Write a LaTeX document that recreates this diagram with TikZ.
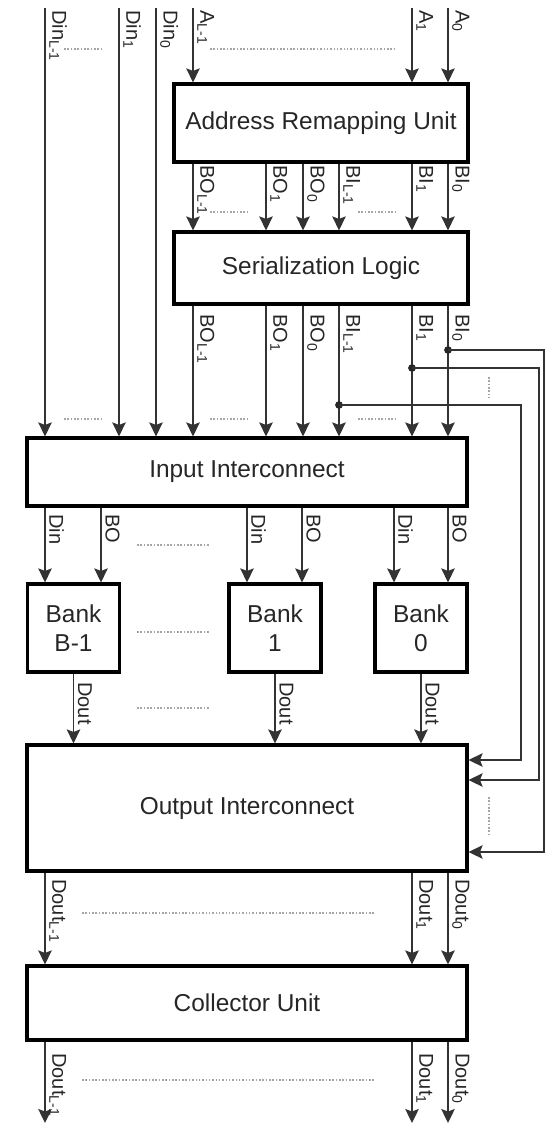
\documentclass[tikz,border=0pt]{standalone}
\usepackage{fontspec}
\setmainfont{Liberation Sans}
\usepackage{tikz}
\usetikzlibrary{arrows.meta,positioning}

\begin{document}
\begin{tikzpicture}[
    x=0.02cm, y=-0.02cm,
    box/.style={draw, line width=1.8pt, inner sep=2pt, text=black!85,
                font=\fontsize{13.9}{16.5}\selectfont, align=center},
    arr/.style={-{Stealth[length=0.28cm, width=0.27cm, inset=0.05cm]}, line width=0.9pt, black!80},
    lab/.style={rotate=-90, anchor=south west, inner sep=0pt, text=black!85,
                font=\fontsize{11.4}{13}\selectfont},
    dots/.style={gray!70, densely dotted, line width=0.9pt},
]
\useasboundingbox (0,0) rectangle (545,1125);

% --- blocks ---
\node[box, minimum width=5.88cm, minimum height=1.56cm] (aru) at (321,123) {Address Remapping Unit};
\node[box, minimum width=5.88cm, minimum height=1.44cm] (sl) at (321,268) {Serialization Logic};
\node[box, minimum width=8.8cm, minimum height=1.36cm] (ii) at (247,472) {Input Interconnect};
\node[box, minimum width=1.84cm, minimum height=1.76cm] (bankB) at (73.5,628) {Bank\\B-1};
\node[box, minimum width=1.84cm, minimum height=1.76cm] (bank1) at (275,628) {Bank\\1};
\node[box, minimum width=1.84cm, minimum height=1.76cm] (bank0) at (421,628) {Bank\\0};
\node[box, minimum width=8.8cm, minimum height=2.52cm] (oi) at (247,808) {Output Interconnect};
\node[box, minimum width=8.8cm, minimum height=1.48cm] (cu) at (247,1003) {Collector Unit};

% --- columns ---
\coordinate (dinL) at (45,8);
\coordinate (din1) at (119,8);
\coordinate (din0) at (156,8);
\coordinate (aL) at (193,8);
\coordinate (bo1) at (266,8);
\coordinate (bo0) at (303,8);
\coordinate (biL) at (339,8);
\coordinate (a1) at (412,8);
\coordinate (a0) at (448,8);
\coordinate (kBo) at (101,8);
\coordinate (k1d) at (247,8);
\coordinate (k1o) at (302,8);
\coordinate (k0d) at (394,8);

% --- inputs ---
\draw[arr] (dinL) -- (dinL |- ii.north);
\draw[arr] (din1) -- (din1 |- ii.north);
\draw[arr] (din0) -- (din0 |- ii.north);
\draw[arr] (aL) -- (aL |- aru.north);
\draw[arr] (a1) -- (a1 |- aru.north);
\draw[arr] (a0) -- (a0 |- aru.north);
\node[lab] (tDinL) at (49,10) {Din\textsubscript{L-1}};
\node[lab] (tDin1) at (123,10) {Din\textsubscript{1}};
\node[lab] (tDin0) at (160,10) {Din\textsubscript{0}};
\node[lab] (tAL) at (197,10) {A\textsubscript{L-1}};
\node[lab] (tA1) at (416,10) {A\textsubscript{1}};
\node[lab] (tA0) at (452,10) {A\textsubscript{0}};
\draw[dots] (64,49) -- (101,49);
\draw[dots] (210,49) -- (395,49);

% --- remapping -> serialization ---
\draw[arr] (aru.south -| aL) -- (sl.north -| aL);
\draw[arr] (aru.south -| bo1) -- (sl.north -| bo1);
\draw[arr] (aru.south -| bo0) -- (sl.north -| bo0);
\draw[arr] (aru.south -| biL) -- (sl.north -| biL);
\draw[arr] (aru.south -| a1) -- (sl.north -| a1);
\draw[arr] (aru.south -| a0) -- (sl.north -| a0);
\node[lab] (mBOL) at (197,165) {BO\textsubscript{L-1}};
\node[lab] (mBO1) at (270,165) {BO\textsubscript{1}};
\node[lab] (mBO0) at (307,165) {BO\textsubscript{0}};
\node[lab] (mBIL) at (343,165) {BI\textsubscript{L-1}};
\node[lab] (mBI1) at (416,165) {BI\textsubscript{1}};
\node[lab] (mBI0) at (452,165) {BI\textsubscript{0}};
\draw[dots] (210,212) -- (248,212);
\draw[dots] (358,212) -- (395,212);

% --- serialization -> input interconnect ---
\draw[arr] (sl.south -| aL) -- (ii.north -| aL);
\draw[arr] (sl.south -| bo1) -- (ii.north -| bo1);
\draw[arr] (sl.south -| bo0) -- (ii.north -| bo0);
\draw[arr] (sl.south -| biL) -- (ii.north -| biL);
\draw[arr] (sl.south -| a1) -- (ii.north -| a1);
\draw[arr] (sl.south -| a0) -- (ii.north -| a0);
\node[lab] (sBOL) at (197,314) {BO\textsubscript{L-1}};
\node[lab] (sBO1) at (270,314) {BO\textsubscript{1}};
\node[lab] (sBO0) at (307,314) {BO\textsubscript{0}};
\node[lab] (sBIL) at (343,314) {BI\textsubscript{L-1}};
\node[lab] (sBI1) at (416,314) {BI\textsubscript{1}};
\node[lab] (sBI0) at (452,314) {BI\textsubscript{0}};
\draw[dots] (64,419) -- (101,419);
\draw[dots] (210,419) -- (249,419);
\draw[dots] (358,419) -- (395,419);

% --- BI feedback to output interconnect ---
\coordinate (j0) at (448,350);
\coordinate (j1) at (412,368);
\coordinate (jL) at (339,405);
\coordinate (r0) at (544,852);
\coordinate (r1) at (539,780);
\coordinate (rL) at (521,760);
\fill[black!85] (j0) circle (2.2pt);
\fill[black!85] (j1) circle (2.2pt);
\fill[black!85] (jL) circle (2.2pt);
\draw[arr] (j0) -| (r0) -- (oi.east |- r0);
\draw[arr] (j1) -| (r1) -- (oi.east |- r1);
\draw[arr] (jL) -| (rL) -- (oi.east |- rL);
\draw[dots] (489,377) -- (489,398);
\draw[dots] (489,797) -- (489,837);

% --- input interconnect -> banks ---
\draw[arr] (ii.south -| dinL) -- (bankB.north -| dinL);
\draw[arr] (ii.south -| kBo) -- (bankB.north -| kBo);
\draw[arr] (ii.south -| k1d) -- (bank1.north -| k1d);
\draw[arr] (ii.south -| k1o) -- (bank1.north -| k1o);
\draw[arr] (ii.south -| k0d) -- (bank0.north -| k0d);
\draw[arr] (ii.south -| a0) -- (bank0.north -| a0);
\node[lab] (bDinB) at (49,514) {Din};
\node[lab] (bBOB) at (105,514) {BO};
\node[lab] (bDin1) at (251,514) {Din};
\node[lab] (bBO1) at (306,514) {BO};
\node[lab] (bDin0) at (398,514) {Din};
\node[lab] (bBO0) at (452,514) {BO};
\draw[dots] (137,545) -- (210,545);
\draw[dots] (137,632) -- (210,632);

% --- banks -> output interconnect ---
\draw[arr] (bankB.south) -- (bankB.south |- oi.north);
\draw[arr] (bank1.south) -- (bank1.south |- oi.north);
\draw[arr] (bank0.south) -- (bank0.south |- oi.north);
\node[lab] (oDoutB) at (77.5,682) {Dout};
\node[lab] (oDout1) at (279,682) {Dout};
\node[lab] (oDout0) at (425,682) {Dout};
\draw[dots] (137,708) -- (210,708);

% --- output interconnect -> collector ---
\draw[arr] (oi.south -| dinL) -- (cu.north -| dinL);
\draw[arr] (oi.south -| a1) -- (cu.north -| a1);
\draw[arr] (oi.south -| a0) -- (cu.north -| a0);
\node[lab] (cDoutL) at (49,879) {Dout\textsubscript{L-1}};
\node[lab] (cDout1) at (416,879) {Dout\textsubscript{1}};
\node[lab] (cDout0) at (452,879) {Dout\textsubscript{0}};
\draw[dots] (82,913) -- (375,913);

% --- outputs ---
\coordinate (oL) at (45,1123);
\coordinate (o1) at (412,1123);
\coordinate (o0) at (448,1123);
\draw[arr] (cu.south -| oL) -- (oL);
\draw[arr] (cu.south -| o1) -- (o1);
\draw[arr] (cu.south -| o0) -- (o0);
\node[lab] (fDoutL) at (49,1053) {Dout\textsubscript{L-1}};
\node[lab] (fDout1) at (416,1053) {Dout\textsubscript{1}};
\node[lab] (fDout0) at (452,1053) {Dout\textsubscript{0}};
\draw[dots] (82,1080) -- (375,1080);
\end{tikzpicture}
\end{document}
